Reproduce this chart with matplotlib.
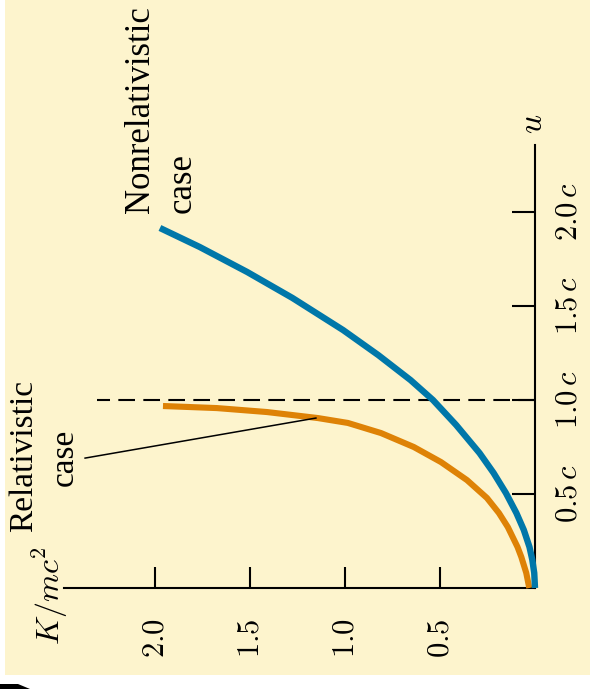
import matplotlib
matplotlib.use("Agg")
import matplotlib.pyplot as plt
from matplotlib.patches import Rectangle, Polygon

plt.rcParams['mathtext.fontset'] = 'cm'

# ---------------- data ----------------
# Nonrelativistic case: K/mc^2 vs u/c
nonrel_K = [0.0, 0.004, 0.014, 0.029, 0.059, 0.098, 0.153, 0.218, 0.292, 0.415,
            0.537, 0.655, 0.825, 1.010, 1.277, 1.515, 1.765, 1.974]
nonrel_u = [0.0, 0.080, 0.149, 0.218, 0.309, 0.399, 0.505, 0.612, 0.718, 0.867,
            1.000, 1.106, 1.239, 1.372, 1.543, 1.681, 1.814, 1.915]
# Relativistic case
rel_K = [0.030, 0.046, 0.072, 0.092, 0.143, 0.190, 0.253, 0.358, 0.495, 0.638,
         0.810, 0.985, 1.143, 1.411, 1.674, 1.958]
rel_u = [0.000, 0.080, 0.165, 0.218, 0.324, 0.399, 0.479, 0.574, 0.670, 0.750,
         0.824, 0.878, 0.904, 0.936, 0.957, 0.968]

K_ticks = [0.5, 1.0, 1.5, 2.0]
K_tick_labels = [r'$0.5$', r'$1.0$', r'$1.5$', r'$2.0$']
u_ticks = [0.5, 1.0, 1.5, 2.0]
u_tick_labels = [r'$0.5\,c$', r'$1.0\,c$', r'$1.5\,c$', r'$2.0\,c$']

speed_of_light = 1.0
# pointer line for "Relativistic case" label (K, u)
pointer_K = [2.368, 1.153]
pointer_u = [0.691, 0.904]

# ---------------- styling ----------------
W, H = 590, 689
BG = '#FDF4CD'
BLUE = '#0077A9'
ORANGE = '#DE8206'

fig = plt.figure(figsize=(W / 100, H / 100), dpi=100)
fig.patch.set_facecolor('white')

def fpx(x, y):
    return (x / W, 1 - y / H)

# cream panel
fig.patches.append(Rectangle(fpx(5, 675), (W - 5) / W, 675 / H,
                             transform=fig.transFigure, facecolor=BG,
                             edgecolor='none', zorder=-10))
# small black page decoration bottom-left
fig.patches.append(Polygon([fpx(0, 684), fpx(18, 684), fpx(30, 689), fpx(0, 689)],
                           closed=True, transform=fig.transFigure,
                           facecolor='black', edgecolor='none', zorder=-9))

ax = fig.add_axes([0, 0, 1, 1])
ax.patch.set_alpha(0)
# pixel mapping: x_px = 535 - 190*K ; y_px = 588 - 188*u
ax.set_xlim(535 / 190, (535 - W) / 190)
ax.set_ylim((588 - H) / 188, 588 / 188)

for s in ['top', 'left']:
    ax.spines[s].set_visible(False)
ax.spines['right'].set_position(('data', 0))
ax.spines['bottom'].set_position(('data', 0))
ax.spines['right'].set_bounds(0, 2.356)
ax.spines['bottom'].set_bounds(0, 2.479)
for s in ['right', 'bottom']:
    ax.spines[s].set_linewidth(1.5)
    ax.spines[s].set_color('black')

ax.yaxis.tick_right()
ax.set_yticks(u_ticks, u_tick_labels, rotation=90, va='center', fontsize=22)
ax.set_xticks(K_ticks, K_tick_labels, rotation=90, ha='center', va='top', fontsize=22)
ax.tick_params(axis='y', direction='in', length=16.5, width=1.5, pad=13)
ax.tick_params(axis='x', direction='in', length=15, width=1.5, pad=22)

# dashed line at u = c
ax.plot([0, 2.305], [speed_of_light, speed_of_light], color='black', lw=1.5,
        dashes=(8, 4), zorder=2)

ax.plot(rel_K, rel_u, color=ORANGE, lw=4.4, solid_capstyle='butt',
        solid_joinstyle='round', zorder=3)
ax.plot(nonrel_K, nonrel_u, color=BLUE, lw=4.6, solid_capstyle='butt',
        solid_joinstyle='round', zorder=4)
ax.plot(pointer_K, pointer_u, color='black', lw=1.1, zorder=5)

serif = ['Liberation Serif', 'DejaVu Serif']
fig.text(*fpx(140, 213), 'Nonrelativistic', rotation=90, ha='center', va='bottom',
         fontsize=25, family=serif)
fig.text(*fpx(182, 213), 'case', rotation=90, ha='center', va='bottom',
         fontsize=25, family=serif)
fig.text(*fpx(24, 456), 'Relativistic', rotation=90, ha='center', va='center',
         fontsize=24, family=serif)
fig.text(*fpx(65, 457), 'case', rotation=90, ha='center', va='center',
         fontsize=24, family=serif)
fig.text(*fpx(50, 596), r'$K/mc^2$', rotation=90, ha='center', va='center', fontsize=23)
fig.text(*fpx(533, 124), r'$u$', rotation=90, ha='center', va='center', fontsize=24)

fig.savefig('out.png', dpi=100, facecolor='white')
